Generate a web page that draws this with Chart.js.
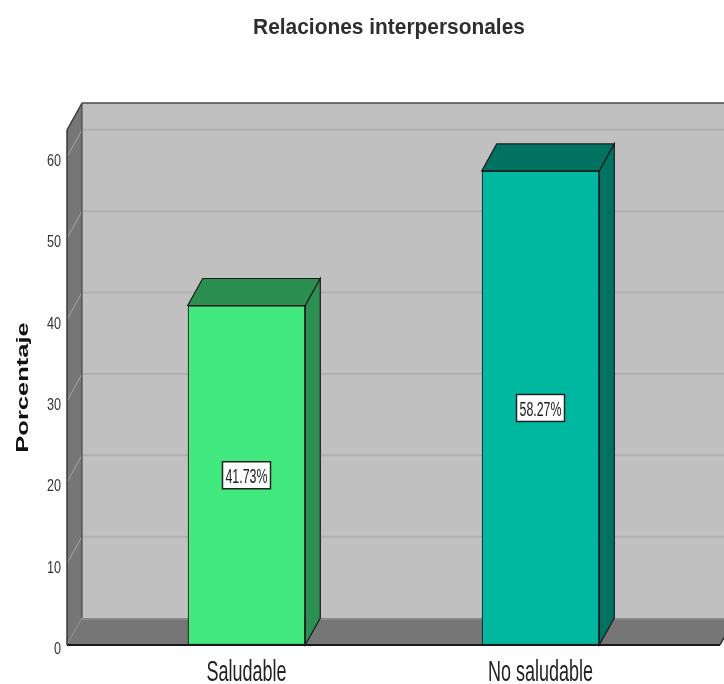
<!DOCTYPE html>
<html>
<head>
<meta charset="utf-8">
<script src="https://cdn.jsdelivr.net/npm/chart.js@4.4.1/dist/chart.umd.min.js"></script>
<style>
  html, body { margin: 0; padding: 0; background: #ffffff; }
  #wrap { width: 724px; height: 684px; }
  canvas { display: block; }
</style>
</head>
<body>
<div id="wrap"><canvas id="c" width="724" height="684"></canvas></div>
<script>
// Data
const categories = ['Saludable', 'No saludable'];
const percentages = [41.73, 58.27];
const yTickValues = [0, 10, 20, 30, 40, 50, 60];
const chartTitle = 'Relaciones interpersonales';
const yAxisTitle = 'Porcentaje';

// Styles
const FONT = '"Liberation Sans", Arial, sans-serif';
const frontFill = ['#42e97e', '#00b89f'];
const sideFill = ['#2a8f50', '#007262'];
const DEPTH = { dx: 15, dy: -27 };

function stretchedText(ctx, text, x, y, o) {
  ctx.save();
  ctx.translate(x, y);
  if (o.rotate) ctx.rotate(o.rotate);
  ctx.scale(o.sx || 1, o.sy || 1);
  ctx.font = o.font;
  ctx.fillStyle = o.color || '#333333';
  ctx.textAlign = o.align || 'center';
  ctx.textBaseline = 'alphabetic';
  ctx.fillText(text, 0, 0);
  ctx.restore();
}

function poly(ctx, pts, fill, stroke, lw) {
  ctx.beginPath();
  ctx.moveTo(pts[0][0], pts[0][1]);
  for (let i = 1; i < pts.length; i++) ctx.lineTo(pts[i][0], pts[i][1]);
  ctx.closePath();
  if (fill) { ctx.fillStyle = fill; ctx.fill(); }
  if (stroke) { ctx.strokeStyle = stroke; ctx.lineWidth = lw || 1; ctx.stroke(); }
}

function seg(ctx, x1, y1, x2, y2, color, lw) {
  ctx.beginPath();
  ctx.moveTo(x1, y1);
  ctx.lineTo(x2, y2);
  ctx.strokeStyle = color;
  ctx.lineWidth = lw;
  ctx.stroke();
}

// Back wall, side wall and floor of the 3D box, placed from the chart area and y scale
const wallsPlugin = {
  id: 'walls3d',
  beforeDatasetsDraw(chart) {
    const { ctx, chartArea: a, scales: { y } } = chart;
    const { dx, dy } = DEPTH;
    const L = a.left, R = a.right, T = a.top, B = a.bottom;
    ctx.save();
    // back wall
    ctx.fillStyle = '#c0c0c0';
    ctx.fillRect(L + dx, T + dy, R - L + 30, B - T);
    // gridlines on the back wall
    yTickValues.forEach(v => {
      if (v === 0) return;
      const py = y.getPixelForValue(v) + dy;
      seg(ctx, L + dx, py, R + dx + 30, py, '#b0b0b0', 2);
    });
    // left wall
    poly(ctx, [[L, T], [L + dx, T + dy], [L + dx, B + dy], [L, B]], '#767676');
    yTickValues.forEach(v => {
      const py = y.getPixelForValue(v);
      seg(ctx, L, py, L + dx, py + dy, '#a4a4a4', 1);
    });
    // floor
    poly(ctx, [[L, B], [L + dx, B + dy], [R + dx, B + dy], [R, B]], '#767676');
    seg(ctx, L + dx, B + dy + 1, R + dx + 30, B + dy + 1, '#888888', 2);
    // edges
    seg(ctx, L, T, L, B, '#3a3a3a', 1.5);
    seg(ctx, L, T, L + dx, T + dy, '#3a3a3a', 1.5);
    seg(ctx, L + dx, T + dy, L + dx, B + dy, '#4a4a4a', 1.2);
    seg(ctx, L + dx, T + dy, R + dx + 30, T + dy, '#4a4a4a', 1.5);
    seg(ctx, L, B, R, B, '#1a1a1a', 2);
    seg(ctx, R, B, R + dx, B + dy, '#2a2a2a', 1.5);
    ctx.restore();
  }
};

// Top and side faces of each bar plus its value label
const barsPlugin = {
  id: 'bars3d',
  afterDatasetsDraw(chart) {
    const { ctx } = chart;
    const { dx, dy } = DEPTH;
    const meta = chart.getDatasetMeta(0);
    ctx.save();
    meta.data.forEach((bar, i) => {
      const { x, y, base, width } = bar.getProps(['x', 'y', 'base', 'width'], true);
      const l = x - width / 2, r = x + width / 2;
      poly(ctx, [[l, y], [l + dx, y + dy], [r + dx, y + dy], [r, y]], sideFill[i], '#1b1b1b', 1.2);
      poly(ctx, [[r, y], [r + dx, y + dy], [r + dx, base + dy], [r, base]], sideFill[i], '#1b1b1b', 1.2);

      const cy = (y + base) / 2;
      const bw = 48, bh = 27;
      ctx.fillStyle = '#ffffff';
      ctx.fillRect(x - bw / 2, cy - bh / 2, bw, bh);
      ctx.strokeStyle = '#222222';
      ctx.lineWidth = 1.5;
      ctx.strokeRect(x - bw / 2, cy - bh / 2, bw, bh);
      stretchedText(ctx, percentages[i].toFixed(2) + '%', x, cy + 8, {
        font: '12.4px ' + FONT, sx: 1, sy: 1.6, color: '#222222'
      });
    });
    ctx.restore();
  }
};

// Titles and tick labels, placed from the scales
const labelsPlugin = {
  id: 'labels3d',
  afterDraw(chart) {
    const { ctx, chartArea: a, scales: { x, y } } = chart;
    yTickValues.forEach(v => {
      stretchedText(ctx, String(v), a.left - 6, y.getPixelForValue(v) + 9, {
        font: '12.6px ' + FONT, sy: 1.33, align: 'right', color: '#333333'
      });
    });
    categories.forEach((c, i) => {
      stretchedText(ctx, c, x.getPixelForValue(i), a.bottom + 36, {
        font: '18px ' + FONT, sy: 1.65, color: '#222222'
      });
    });
    stretchedText(ctx, chartTitle, 389, 34, {
      font: 'bold 19px ' + FONT, sx: 1.1, sy: 1.2, color: '#2e2e2e'
    });
    stretchedText(ctx, yAxisTitle, 27.5, (a.top + a.bottom) / 2, {
      font: 'bold 17px ' + FONT, sx: 1.5, rotate: -Math.PI / 2, color: '#111111'
    });
  }
};

new Chart(document.getElementById('c'), {
  type: 'bar',
  data: {
    labels: categories,
    datasets: [{
      label: yAxisTitle,
      data: percentages.map((v, i) => ({ x: i, y: v })),
      backgroundColor: frontFill,
      borderColor: '#1b1b1b',
      borderWidth: 1.2,
      borderSkipped: false,
      barPercentage: 0.4,
      categoryPercentage: 1
    }]
  },
  options: {
    responsive: false,
    animation: false,
    events: [],
    layout: { padding: { top: 130, right: 4, left: 0, bottom: 0 } },
    plugins: { legend: { display: false }, tooltip: { enabled: false }, title: { display: false } },
    scales: {
      x: {
        type: 'linear',
        offset: false,
        min: -0.6105,
        max: 1.6105,
        afterBuildTicks: s => { s.ticks = categories.map((c, i) => ({ value: i })); },
        afterFit: s => { s.height = 39; },
        grid: { display: false, drawTicks: false, offset: false },
        border: { display: false },
        ticks: { display: false }
      },
      y: {
        min: 0,
        max: 63.3,
        afterBuildTicks: s => { s.ticks = yTickValues.map(v => ({ value: v })); },
        afterFit: s => { s.width = 67; },
        grid: { display: false, drawTicks: false },
        border: { display: false },
        ticks: { display: false }
      }
    }
  },
  plugins: [wallsPlugin, barsPlugin, labelsPlugin]
});
</script>
</body>
</html>
